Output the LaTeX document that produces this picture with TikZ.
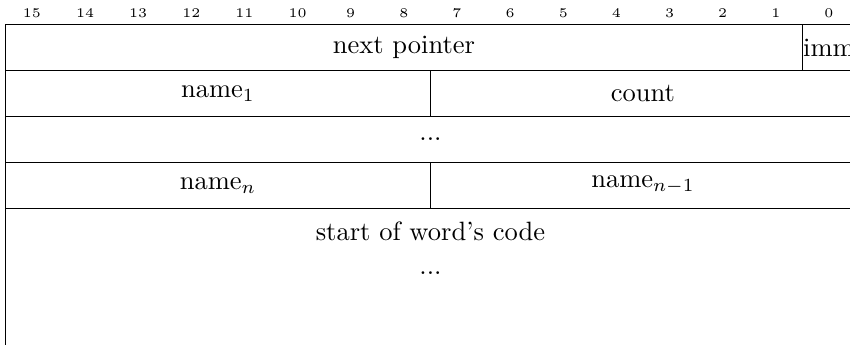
\documentclass[tikz,border=0pt]{standalone}
\usepackage{amsmath,amssymb}
\usepackage{tikz}

\tikzset{
	bitnum/.style={font=\tiny,inner sep=0pt},
	field/.style={inner sep=0pt},
}

\begin{document}
\begin{tikzpicture}[x=20.05pt,y=-17.28pt]
			\useasboundingbox (-0.1016,-0.5435) rectangle (15.897,6.987);
			
			\foreach \i in {0,...,15} \node[bitnum] (b\i) at (15.5-\i,-0.262) {\i};
			
			\draw (0,0) rectangle (16,7);
			\draw (0,1) -- ++(16,0);
			\draw (0,2) -- ++(16,0);
			\draw (0,3) -- ++(16,0);
			\draw (0,4) -- ++(16,0);
			\draw (15,0) -- ++(0,1);
			\draw (8,1) -- ++(0,1);
			\draw (8,3) -- ++(0,1);
			
			\node[field] (next) at (7.5,0.5) {next pointer};
			\node[field] (imm) at (15.5,0.5) {imm};
			\node[field] (nameone) at (4,1.5) {name$_1$};
			\node[field] (count) at (12,1.5) {count};
			\node[field] (gap) at (8,2.5) {...};
			\node[field] (namen) at (4,3.5) {name$_n$};
			\node[field] (namenm) at (12,3.5) {name$_{n-1}$};
			\node[field,anchor=base] (code) at (8,4.716) {start of word's code};
			\node[field,anchor=base] (codedots) at (8,5.459) {...};
		\end{tikzpicture}
\end{document}
